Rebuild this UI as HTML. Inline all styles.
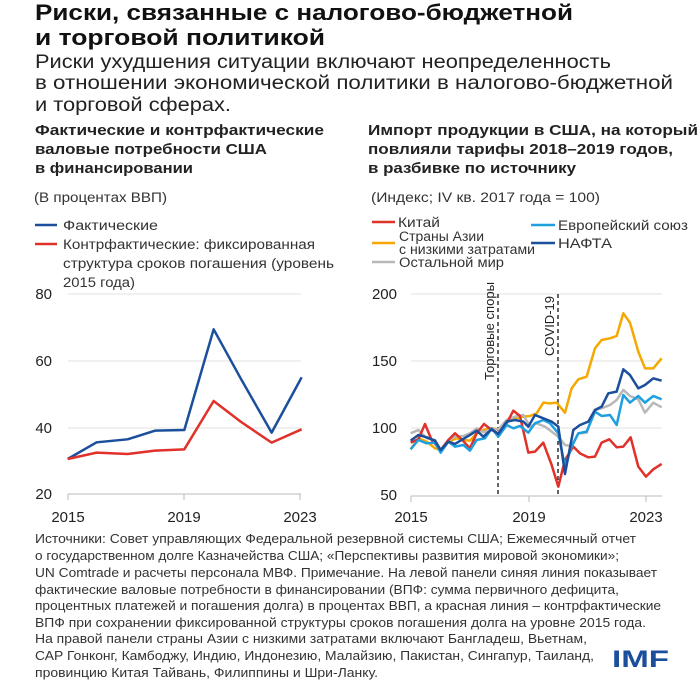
<!DOCTYPE html>
<html><head><meta charset="utf-8"><style>
html,body{margin:0;padding:0;background:#fff;}
svg{display:block;font-family:"Liberation Sans",sans-serif;}
</style></head><body>
<svg width="700" height="700" viewBox="0 0 700 700" xmlns="http://www.w3.org/2000/svg">
<rect width="700" height="700" fill="#fff"/>
<g fill="#111" font-weight="bold" font-size="22">
<text x="35" y="20" textLength="538" lengthAdjust="spacingAndGlyphs">Риски, связанные с налогово-бюджетной</text>
<text x="35" y="45" textLength="290" lengthAdjust="spacingAndGlyphs">и торговой политикой</text>
</g>
<g fill="#222" font-size="19">
<text x="35" y="68" textLength="576" lengthAdjust="spacingAndGlyphs">Риски ухудшения ситуации включают неопределенность</text>
<text x="35" y="89" textLength="638" lengthAdjust="spacingAndGlyphs">в отношении экономической политики в налогово-бюджетной</text>
<text x="35" y="111" textLength="196" lengthAdjust="spacingAndGlyphs">и торговой сферах.</text>
</g>
<g fill="#222" font-weight="bold" font-size="14.5">
<text x="35" y="135" textLength="289" lengthAdjust="spacingAndGlyphs">Фактические и контрфактические</text>
<text x="35" y="154" textLength="232" lengthAdjust="spacingAndGlyphs">валовые потребности США</text>
<text x="35" y="173" textLength="158" lengthAdjust="spacingAndGlyphs">в финансировании</text>
<text x="368" y="135" textLength="330" lengthAdjust="spacingAndGlyphs">Импорт продукции в США, на который</text>
<text x="368" y="154" textLength="305" lengthAdjust="spacingAndGlyphs">повлияли тарифы 2018–2019 годов,</text>
<text x="368" y="173" textLength="208" lengthAdjust="spacingAndGlyphs">в разбивке по источнику</text>
</g>
<g fill="#333" font-size="13.5">
<text x="34" y="202" textLength="133" lengthAdjust="spacingAndGlyphs">(В процентах ВВП)</text>
<text x="371" y="202" textLength="229" lengthAdjust="spacingAndGlyphs">(Индекс; IV кв. 2017 года = 100)</text>
<text x="63" y="230" textLength="95" lengthAdjust="spacingAndGlyphs">Фактические</text>
<text x="63" y="249" textLength="252" lengthAdjust="spacingAndGlyphs">Контрфактические: фиксированная</text>
<text x="63" y="268" textLength="271" lengthAdjust="spacingAndGlyphs">структура сроков погашения (уровень</text>
<text x="63" y="287" textLength="72" lengthAdjust="spacingAndGlyphs">2015 года)</text>
<text x="398" y="227" textLength="42" lengthAdjust="spacingAndGlyphs">Китай</text>
<text x="399" y="241" textLength="85" lengthAdjust="spacingAndGlyphs">Страны Азии</text>
<text x="399" y="254" textLength="136" lengthAdjust="spacingAndGlyphs">с низкими затратами</text>
<text x="399" y="267" textLength="105" lengthAdjust="spacingAndGlyphs">Остальной мир</text>
<text x="558" y="230" textLength="130" lengthAdjust="spacingAndGlyphs">Европейский союз</text>
<text x="558" y="248" textLength="54" lengthAdjust="spacingAndGlyphs">НАФТА</text>
</g>
<g stroke-width="2.5">
<line x1="35" y1="225" x2="57" y2="225" stroke="#1b4f9c"/>
<line x1="35" y1="244" x2="57" y2="244" stroke="#e0312a"/>
<line x1="372" y1="222" x2="395" y2="222" stroke="#e0312a"/>
<line x1="372" y1="243" x2="395" y2="243" stroke="#f5a800"/>
<line x1="372" y1="262" x2="395" y2="262" stroke="#b8b8b8"/>
<line x1="531" y1="225" x2="555" y2="225" stroke="#1ea0e0"/>
<line x1="531" y1="243" x2="555" y2="243" stroke="#1b4f9c"/>
</g>
<g stroke="#e2e2e2" stroke-width="1">
<line x1="68" y1="294" x2="301" y2="294"/>
<line x1="68" y1="361" x2="301" y2="361"/>
<line x1="68" y1="428" x2="301" y2="428"/>
<line x1="411" y1="294" x2="662" y2="294"/>
<line x1="411" y1="361" x2="662" y2="361"/>
<line x1="411" y1="428" x2="662" y2="428"/>
</g>
<g stroke="#bbb" stroke-width="1">
<line x1="68" y1="494" x2="301" y2="494"/>
<line x1="68" y1="494" x2="68" y2="500"/><line x1="184" y1="494" x2="184" y2="500"/><line x1="300" y1="494" x2="300" y2="500"/>
<line x1="411" y1="496" x2="662" y2="496"/>
<line x1="411" y1="496" x2="411" y2="502"/><line x1="529" y1="496" x2="529" y2="502"/><line x1="646" y1="496" x2="646" y2="502"/>
</g>
<g fill="#222" font-size="15">
<text x="52" y="299" text-anchor="end">80</text>
<text x="52" y="366" text-anchor="end">60</text>
<text x="52" y="433" text-anchor="end">40</text>
<text x="52" y="499" text-anchor="end">20</text>
<text x="68" y="522" text-anchor="middle">2015</text>
<text x="184" y="522" text-anchor="middle">2019</text>
<text x="300" y="522" text-anchor="middle">2023</text>
<text x="397" y="299" text-anchor="end">200</text>
<text x="397" y="366" text-anchor="end">150</text>
<text x="397" y="433" text-anchor="end">100</text>
<text x="397" y="500" text-anchor="end">50</text>
<text x="411" y="522" text-anchor="middle">2015</text>
<text x="529" y="522" text-anchor="middle">2019</text>
<text x="646" y="522" text-anchor="middle">2023</text>
</g>
<g transform="translate(0,270) scale(0.3333)" fill="none" stroke-width="7.5" stroke-linejoin="round">
<polyline stroke="#1b4f9c" points="203,567 290,517 383,508 465,482 553,480 641,178 722,325 815,488 905,322"/>
<polyline stroke="#e0312a" points="203,567 290,548 383,552 465,542 553,538 641,393 722,455 815,518 905,478"/>
</g>
<g stroke="#111" stroke-width="1.3" stroke-dasharray="4,3">
<line x1="498" y1="294" x2="498" y2="496"/>
<line x1="558" y1="294" x2="558" y2="496"/>
</g>
<g fill="#222" font-size="12.5">
<text transform="translate(494,380) rotate(-90)" textLength="98" lengthAdjust="spacingAndGlyphs">Торговые споры</text>
<text transform="translate(554,356) rotate(-90)" textLength="60" lengthAdjust="spacingAndGlyphs">COVID-19</text>
</g>
<g transform="translate(360,270) scale(0.3333)" fill="none" stroke-width="7.5" stroke-linejoin="round">
<polyline stroke="#f5a800" points="152,538 175,505 200,515 225,535 245,540 265,515 290,505 310,510 330,512 350,490 370,480 395,475 415,478 440,455 465,445 490,440 510,438 530,430 550,398 570,400 590,398 615,428 635,355 655,328 680,320 705,235 725,210 750,205 770,198 790,130 810,158 835,245 855,295 880,295 905,265"/>
<polyline stroke="#b8b8b8" points="152,490 175,480 200,505 225,510 242,540 265,510 285,500 310,498 330,490 350,475 370,487 395,478 415,478 440,450 465,440 490,435 510,470 530,460 555,470 575,485 595,500 615,525 635,528 655,490 680,488 705,420 725,415 750,405 770,390 790,360 810,378 835,388 855,428 880,398 905,412"/>
<polyline stroke="#e0312a" points="152,518 175,508 195,462 215,510 242,540 265,510 285,490 305,508 330,535 350,490 372,462 395,480 415,490 440,460 460,422 480,438 505,548 525,545 550,518 575,585 595,650 615,570 640,530 660,550 685,562 705,560 725,518 748,508 770,532 790,530 812,502 835,590 858,620 880,598 905,582"/>
<polyline stroke="#1ea0e0" points="152,538 175,510 200,520 225,518 242,548 265,515 285,530 310,525 330,542 350,510 375,505 395,475 415,500 440,465 460,475 480,468 505,488 525,460 550,450 570,460 595,490 615,590 635,530 655,490 680,485 705,425 725,438 750,435 770,465 790,375 810,398 835,378 855,398 880,378 905,388"/>
<polyline stroke="#1b4f9c" points="152,512 175,495 200,502 225,512 242,540 265,515 285,522 305,510 330,495 350,482 370,500 395,478 415,492 440,455 465,450 490,455 505,470 525,435 550,445 575,455 595,470 615,612 640,480 660,465 685,455 705,420 725,410 745,370 770,365 790,298 810,315 835,355 855,345 880,325 905,332"/>
</g>
<g fill="#333" font-size="13.3">
<text x="35" y="543" textLength="601" lengthAdjust="spacingAndGlyphs">Источники: Совет управляющих Федеральной резервной системы США; Ежемесячный отчет</text>
<text x="35" y="560" textLength="584" lengthAdjust="spacingAndGlyphs">о государственном долге Казначейства США; «Перспективы развития мировой экономики»;</text>
<text x="35" y="577" textLength="622" lengthAdjust="spacingAndGlyphs">UN Comtrade и расчеты персонала МВФ. Примечание. На левой панели синяя линия показывает</text>
<text x="35" y="594" textLength="584" lengthAdjust="spacingAndGlyphs">фактические валовые потребности в финансировании (ВПФ: сумма первичного дефицита,</text>
<text x="35" y="610" textLength="626" lengthAdjust="spacingAndGlyphs">процентных платежей и погашения долга) в процентах ВВП, а красная линия – контрфактические</text>
<text x="35" y="627" textLength="611" lengthAdjust="spacingAndGlyphs">ВПФ при сохранении фиксированной структуры сроков погашения долга на уровне 2015 года.</text>
<text x="35" y="643" textLength="552" lengthAdjust="spacingAndGlyphs">На правой панели страны Азии с низкими затратами включают Бангладеш, Вьетнам,</text>
<text x="35" y="660" textLength="559" lengthAdjust="spacingAndGlyphs">САР Гонконг, Камбоджу, Индию, Индонезию, Малайзию, Пакистан, Сингапур, Таиланд,</text>
<text x="35" y="677" textLength="343" lengthAdjust="spacingAndGlyphs">провинцию Китая Тайвань, Филиппины и Шри-Ланку.</text>
</g>
<text x="612" y="667" fill="#1b4f9c" font-weight="bold" font-size="24" textLength="57" lengthAdjust="spacingAndGlyphs">IMF</text>
</svg>
</body></html>
